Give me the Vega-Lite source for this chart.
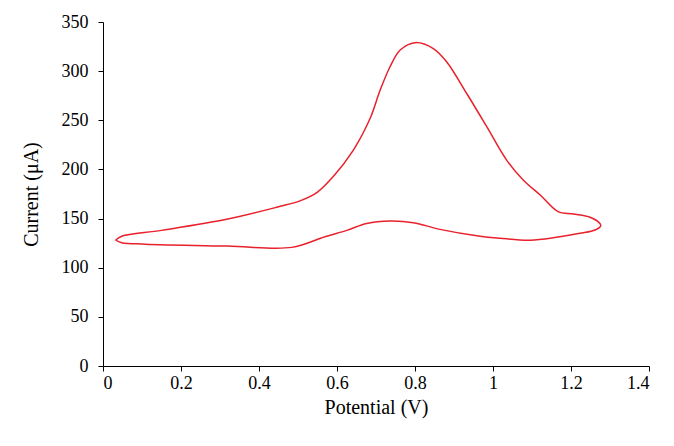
{
  "$schema": "https://vega.github.io/schema/vega-lite/v6.json",
  "width": 546,
  "height": 344,
  "autosize": "none",
  "padding": {"left": 103, "top": 22, "right": 25, "bottom": 80},
  "background": "white",
  "config": {
    "view": {"stroke": null},
    "font": "Liberation Serif",
    "axis": {
      "grid": false,
      "domainColor": "#000000",
      "tickColor": "#000000",
      "tickSize": 5,
      "labelColor": "#000000",
      "titleColor": "#000000",
      "labelFont": "Liberation Serif",
      "titleFont": "Liberation Serif",
      "labelFontSize": 18,
      "titleFontSize": 20,
      "titleFontWeight": "normal"
    }
  },
  "data": {
    "values": [
      {"i": 1, "v": 0.032, "c": 128},
      {"i": 2, "v": 0.048, "c": 132},
      {"i": 3, "v": 0.15, "c": 138},
      {"i": 4, "v": 0.32, "c": 149.5},
      {"i": 5, "v": 0.45, "c": 162},
      {"i": 6, "v": 0.505, "c": 168},
      {"i": 7, "v": 0.55, "c": 177},
      {"i": 8, "v": 0.59, "c": 192.6},
      {"i": 9, "v": 0.642, "c": 219.7},
      {"i": 10, "v": 0.685, "c": 252},
      {"i": 11, "v": 0.71, "c": 280},
      {"i": 12, "v": 0.736, "c": 304.5},
      {"i": 13, "v": 0.762, "c": 321.5},
      {"i": 14, "v": 0.8, "c": 329},
      {"i": 15, "v": 0.847, "c": 323},
      {"i": 16, "v": 0.881, "c": 309.6},
      {"i": 17, "v": 0.933, "c": 277},
      {"i": 18, "v": 0.984, "c": 243.5},
      {"i": 19, "v": 1.035, "c": 209.5},
      {"i": 20, "v": 1.078, "c": 189},
      {"i": 21, "v": 1.121, "c": 174},
      {"i": 22, "v": 1.167, "c": 157},
      {"i": 23, "v": 1.206, "c": 154.6},
      {"i": 24, "v": 1.249, "c": 151.3},
      {"i": 25, "v": 1.274, "c": 145},
      {"i": 26, "v": 1.276, "c": 142.4},
      {"i": 27, "v": 1.262, "c": 138.4},
      {"i": 28, "v": 1.223, "c": 135},
      {"i": 29, "v": 1.163, "c": 131},
      {"i": 30, "v": 1.095, "c": 128},
      {"i": 31, "v": 1.018, "c": 130},
      {"i": 32, "v": 0.967, "c": 132},
      {"i": 33, "v": 0.864, "c": 139},
      {"i": 34, "v": 0.796, "c": 145.8},
      {"i": 35, "v": 0.736, "c": 147.5},
      {"i": 36, "v": 0.676, "c": 145},
      {"i": 37, "v": 0.625, "c": 138},
      {"i": 38, "v": 0.569, "c": 131.5},
      {"i": 39, "v": 0.484, "c": 120.7},
      {"i": 40, "v": 0.32, "c": 122},
      {"i": 41, "v": 0.108, "c": 124},
      {"i": 42, "v": 0.048, "c": 125.5},
      {"i": 43, "v": 0.032, "c": 128}
    ]
  },
  "mark": {"type": "line", "color": "#e8212b", "strokeWidth": 1.5, "interpolate": "catmull-rom"},
  "encoding": {
    "x": {
      "field": "v",
      "type": "quantitative",
      "scale": {"domain": [0, 1.4], "nice": false},
      "axis": {"values": [0, 0.2, 0.4, 0.6, 0.8, 1, 1.2, 1.4], "format": "~g", "title": "Potential (V)", "labelPadding": 3, "titlePadding": 5}
    },
    "y": {
      "field": "c",
      "type": "quantitative",
      "scale": {"domain": [0, 350], "nice": false},
      "axis": {"values": [0, 50, 100, 150, 200, 250, 300, 350], "title": "Current (μA)", "labelPadding": 10, "titlePadding": 20}
    },
    "order": {"field": "i", "type": "quantitative"}
  }
}
